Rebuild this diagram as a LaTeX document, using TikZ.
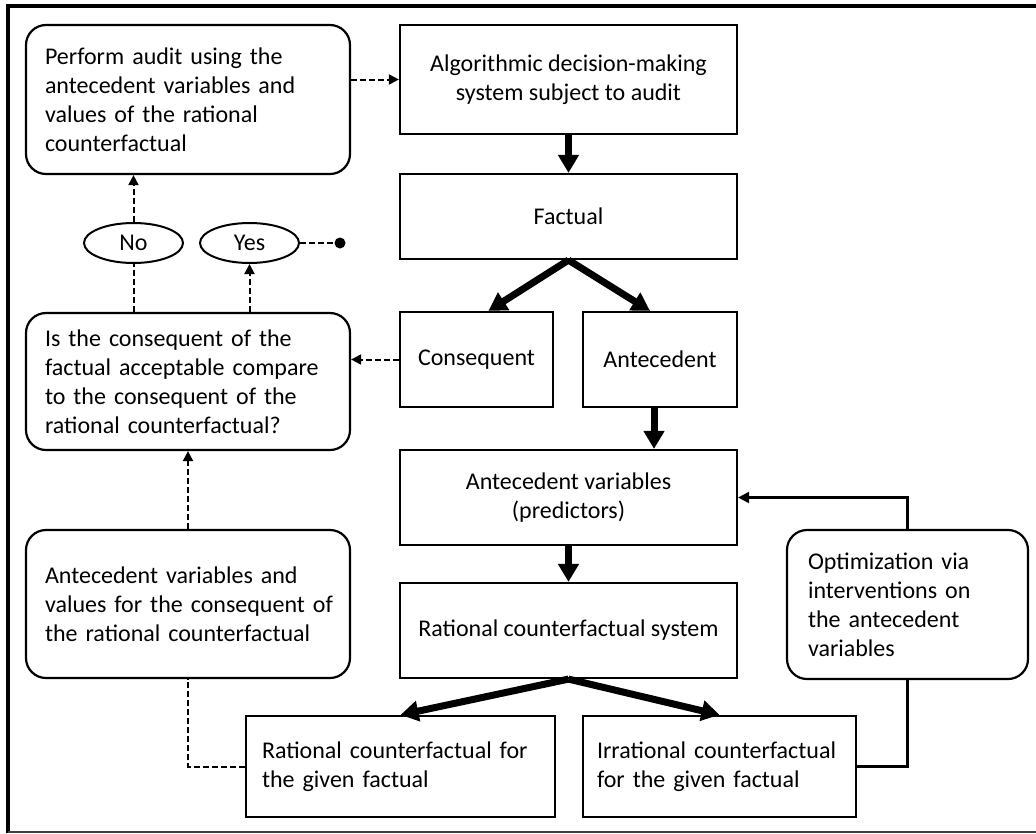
\documentclass[tikz,border=0pt]{standalone}
\usepackage{fontspec}
\setmainfont{Carlito}
\usetikzlibrary{shapes.geometric,arrows.meta}
\begin{document}
\begin{tikzpicture}[x=1pt,y=-1pt,
  every node/.style={font=\fontsize{24}{29}\selectfont, text=black},
  cbox/.style={draw,line width=2.2pt,rectangle,align=center,inner sep=0pt},
  lbox/.style={draw,line width=2.2pt,rectangle,align=left,inner ysep=0pt},
  rnd/.style={draw,line width=2.2pt,rounded corners=20pt,align=left,inner xsep=19pt,inner ysep=0pt,text width=286pt,minimum width=324pt},
  choice/.style={draw,line width=2pt,ellipse,minimum width=99pt,minimum height=40pt,inner sep=0pt},
  bigarrow/.style={line width=7pt,-{Triangle[width=20pt,length=18pt]}},
  dashline/.style={line width=2pt,dash pattern=on 6pt off 3pt},
  dasharrow/.style={dashline,-{Triangle[width=10pt,length=10pt]}},
  fbline/.style={line width=2.2pt},
  fbarrow/.style={fbline,-{Triangle[width=11pt,length=11pt]}}
]
\useasboundingbox (0,0) rectangle (1036,833);
% frame
\draw[line width=4pt] (8,833) -- (8,6) -- (1036,6);
\draw[line width=1.5pt,black!75] (8,832) -- (1036,832);

% nodes
\node[rnd,minimum height=149pt] (audit) at (188,99.5) {Perform audit using the\\antecedent variables and\\values of the rational\\counterfactual};
\node[cbox,minimum width=337pt,minimum height=109pt] (alg) at (568.5,79.5) {Algorithmic decision-making\\system subject to audit};
\node[cbox,minimum width=337pt,minimum height=85pt] (fact) at (568.5,216.5) {Factual};
\node[choice] (no) at (133.5,243) {No};
\node[choice] (yes) at (249.5,243) {Yes};
\node[circle,fill=black,inner sep=0pt,minimum size=11pt] (dot) at (340,243) {};
\node[rnd,minimum height=137pt] (isq) at (188,381.5) {Is the consequent of the\\\mbox{factual acceptable compare}\\to the consequent of the\\rational counterfactual?};
\node[cbox,minimum width=153pt,minimum height=95pt] (cons) at (476.5,359.5) {Consequent};
\node[cbox,minimum width=154pt,minimum height=95pt] (ante) at (660,359.5) {Antecedent};
\node[cbox,minimum width=337pt,minimum height=95pt] (avars) at (568.5,497.5) {Antecedent variables\\(predictors)};
\node[cbox,minimum width=337pt,minimum height=95pt] (rcs) at (568.5,630.5) {Rational counterfactual system};
\node[rnd,minimum height=148pt] (aval) at (188,604) {Antecedent variables and\\\mbox{values for the consequent of}\\the rational counterfactual};
\node[rnd,text width=199pt,inner xsep=21pt,minimum width=241pt,minimum height=149pt] (opt) at (907.5,604.5) {Optimization via\\interventions on\\the antecedent\\variables};
\node[lbox,inner xsep=16pt,text width=277pt,minimum height=101pt] (rcf) at (400.5,766.5) {\mbox{Rational counterfactual for}\\the given factual};
\node[lbox,inner xsep=14pt,text width=245pt,minimum height=101pt] (irr) at (719.5,766.5) {\mbox{Irrational counterfactual}\\for the given factual};

% thick flow arrows
\draw[bigarrow] (alg.south) -- (fact.north);
\draw[bigarrow] (fact.south) -- ([xshift=12pt]cons.north);
\draw[bigarrow] (fact.south) -- ([xshift=-10pt]ante.north);
\draw[bigarrow] ([xshift=-6pt]ante.south) -- ([xshift=-6pt]ante.south |- avars.north);
\draw[bigarrow] (avars.south) -- (rcs.north);
\draw[bigarrow] (rcs.south) -- (rcf.north);
\draw[bigarrow] (rcs.south) -- (irr.north);

% dashed connectors
\draw[dasharrow] (audit.east |- alg.west) -- (alg.west);
\draw[dasharrow] (cons.west) -- (cons.west -| isq.east);
\draw[dashline] (isq.north -| no.south) -- (no.south);
\draw[dasharrow] (no.north) -- (no.north |- audit.south);
\draw[dasharrow] (isq.north -| yes.south) -- (yes.south);
\draw[dashline] (yes.east) -- (dot.center);
\draw[dasharrow] (aval.north) -- (isq.south);
\draw[dashline] (rcf.west) -| (aval.south);

% feedback loop
\draw[fbline] (irr.east) -| (opt.south);
\draw[fbarrow] (opt.north) |- (avars.east);
\end{tikzpicture}
\end{document}
